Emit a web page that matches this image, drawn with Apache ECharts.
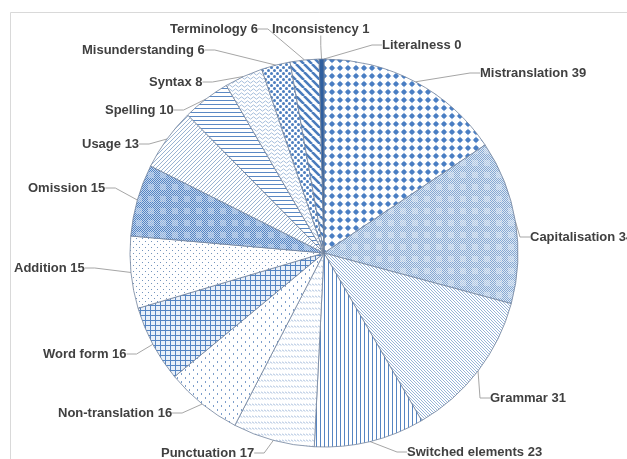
<!DOCTYPE html>
<html>
<head>
<meta charset="utf-8">
<script src="https://cdn.jsdelivr.net/npm/echarts@6/dist/echarts.min.js"></script>
<style>
html, body { margin: 0; padding: 0; background: #fff; }
#errorPie { width: 627px; height: 459px; }
</style>
</head>
<body>
<div id="errorPie"></div>
<script>
// error categories, clockwise from 12 o'clock
var categories = ['Literalness', 'Mistranslation', 'Capitalisation', 'Grammar', 'Switched elements',
  'Punctuation', 'Non-translation', 'Word form', 'Addition', 'Omission', 'Usage', 'Spelling',
  'Syntax', 'Misunderstanding', 'Terminology', 'Inconsistency'];
var errorCounts = [0, 39, 34, 31, 23, 17, 16, 16, 15, 15, 13, 10, 8, 6, 6, 1];

// where each label sits (left x, middle y), like the hand placed excel labels
var labelSpots = [[382, 45], [480, 73], [530, 237], [490, 398], [407, 452], [161, 453],
  [58, 413], [43, 354], [14, 268], [28, 188], [82, 144], [105, 110], [149, 82],
  [82, 50], [170, 29], [272, 29]];

// fill pattern name for every slice
var fills = ['solid', 'bigDots', 'plaidLight', 'diagDownFine', 'vertLines', 'dashes',
  'confetti', 'grid', 'dots', 'plaidDark', 'diagUpFine', 'horizLines', 'waves',
  'smallDots', 'diagWide', 'solid'];

function tile(w, h, bg) {
  var c = document.createElement('canvas');
  c.width = w; c.height = h;
  var ctx = c.getContext('2d');
  ctx.fillStyle = bg;
  ctx.fillRect(0, 0, w, h);
  return { c: c, ctx: ctx };
}

// plaid made of a pixel checker, darker in the bands and lighter in the square
function plaid(size, inner, bg, band, square) {
  var t = tile(size, size, bg), i, j;
  for (i = 0; i < size; i++) for (j = 0; j < size; j++) {
    if ((i + j) % 2 === 0) {
      var inSq = i >= inner[0] && i < inner[1] && j >= inner[0] && j < inner[1];
      t.ctx.fillStyle = inSq ? square : band;
      t.ctx.fillRect(i, j, 1, 1);
    }
  }
  return t;
}

function makePattern(name) {
  var t, ctx, i;
  switch (name) {
    case 'solid':
      t = tile(4, 4, '#2f5f9f');
      break;
    case 'bigDots':
      t = tile(8, 8, '#ffffff'); ctx = t.ctx;
      ctx.fillStyle = '#4a7fc3';
      ctx.beginPath(); ctx.arc(4, 4, 2.3, 0, Math.PI * 2); ctx.fill();
      ctx.fillRect(3.5, 0.9, 1, 6.2); ctx.fillRect(0.9, 3.5, 6.2, 1);
      break;
    case 'plaidLight':
      t = plaid(12, [4, 10], '#dde8f4', '#86a8d2', '#b3c9e4');
      break;
    case 'plaidDark':
      t = plaid(12, [4, 10], '#c4d6ee', '#5585c3', '#93b3dc');
      break;
    case 'diagDownFine':
      t = tile(3, 3, '#ffffff'); ctx = t.ctx;
      ctx.strokeStyle = '#8aabd4'; ctx.lineWidth = 0.9;
      ctx.beginPath();
      for (i = -3; i <= 3; i += 3) { ctx.moveTo(i, 0); ctx.lineTo(i + 3, 3); }
      ctx.stroke();
      break;
    case 'diagUpFine':
      t = tile(4, 4, '#ffffff'); ctx = t.ctx;
      ctx.strokeStyle = '#9ab3d2'; ctx.lineWidth = 1;
      ctx.beginPath();
      for (i = -4; i <= 4; i += 4) { ctx.moveTo(i, 4); ctx.lineTo(i + 4, 0); }
      ctx.stroke();
      break;
    case 'diagWide':
      t = tile(8, 8, '#ffffff'); ctx = t.ctx;
      ctx.strokeStyle = '#4a7cbd'; ctx.lineWidth = 2.6;
      ctx.beginPath();
      for (i = -8; i <= 8; i += 8) { ctx.moveTo(i, 0); ctx.lineTo(i + 8, 8); }
      ctx.stroke();
      break;
    case 'vertLines':
      t = tile(4, 4, '#ffffff'); ctx = t.ctx;
      ctx.fillStyle = '#5685c2';
      ctx.fillRect(0, 0, 1, 4);
      break;
    case 'horizLines':
      t = tile(4, 4, '#ffffff'); ctx = t.ctx;
      ctx.fillStyle = '#5b89c4';
      ctx.fillRect(0, 0, 4, 1);
      break;
    case 'grid':
      t = tile(5, 5, '#e9f0f9'); ctx = t.ctx;
      ctx.fillStyle = '#5585c3';
      ctx.fillRect(0, 0, 5, 1); ctx.fillRect(0, 0, 1, 5);
      break;
    case 'dots':
      t = tile(6, 6, '#ffffff'); ctx = t.ctx;
      ctx.fillStyle = '#7394bd';
      ctx.fillRect(1, 1, 1, 1); ctx.fillRect(4, 4, 1, 1);
      break;
    case 'smallDots':
      t = tile(6, 6, '#ffffff'); ctx = t.ctx;
      ctx.fillStyle = '#4c7ebf';
      ctx.beginPath(); ctx.arc(1.5, 1.5, 1.5, 0, Math.PI * 2); ctx.fill();
      ctx.beginPath(); ctx.arc(4.5, 4.5, 1.5, 0, Math.PI * 2); ctx.fill();
      break;
    case 'dashes':
      t = tile(3, 6, '#ffffff'); ctx = t.ctx;
      ctx.strokeStyle = '#86a5cf'; ctx.lineWidth = 0.9;
      ctx.beginPath(); ctx.moveTo(0, 1.5); ctx.lineTo(2, 3.5); ctx.stroke();
      break;
    case 'confetti':
      t = tile(8, 8, '#ffffff'); ctx = t.ctx;
      ctx.fillStyle = '#7d9ecb';
      ctx.fillRect(1, 1, 1, 2); ctx.fillRect(5, 5, 1, 2);
      break;
    case 'waves':
      t = tile(6, 4, '#ffffff'); ctx = t.ctx;
      ctx.strokeStyle = '#8fadd3'; ctx.lineWidth = 0.8;
      ctx.beginPath(); ctx.moveTo(0, 2); ctx.lineTo(1.5, 0.8); ctx.lineTo(3, 2);
      ctx.lineTo(4.5, 3.2); ctx.lineTo(6, 2); ctx.stroke();
      break;
  }
  return { image: t.c, repeat: 'repeat' };
}

var chart = echarts.init(document.getElementById('errorPie'));

var pieData = categories.map(function (name, i) {
  return {
    name: name,
    value: errorCounts[i],
    itemStyle: { color: makePattern(fills[i]) }
  };
});

chart.setOption({
  backgroundColor: '#ffffff',
  animation: false,
  graphic: [{
    type: 'rect',
    shape: { x: 10.5, y: 12.5, width: 700, height: 500 },
    style: { fill: 'none', stroke: '#d9d9d9', lineWidth: 1 },
    silent: true
  }],
  series: [{
    type: 'pie',
    center: [324, 253],
    radius: 194,
    startAngle: 90,
    clockwise: true,
    avoidLabelOverlap: false,
    minShowLabelAngle: 0,
    itemStyle: {
      borderColor: '#71839d',
      borderWidth: 0.8
    },
    label: {
      show: true,
      position: 'outside',
      formatter: '{b} {c}',
      color: '#404040',
      fontFamily: 'Liberation Sans, Arial, sans-serif',
      fontWeight: 'bold',
      fontSize: 13
    },
    labelLine: {
      show: true,
      length: 10,
      length2: 10,
      lineStyle: { color: '#a6a6a6', width: 1 }
    },
    labelLayout: function (params) {
      var p = labelSpots[params.dataIndex];
      return { x: p[0], y: p[1], align: 'left', verticalAlign: 'middle' };
    },
    data: pieData
  }]
});
</script>
</body>
</html>
